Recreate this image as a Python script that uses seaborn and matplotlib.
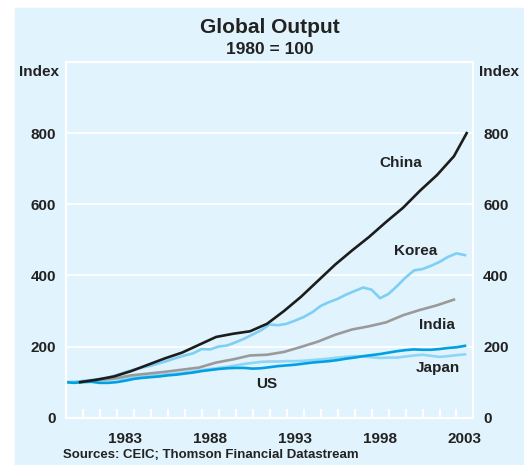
import numpy as np
import pandas as pd
import matplotlib
matplotlib.use("Agg")
import matplotlib.pyplot as plt
import seaborn as sns
from matplotlib.patches import Rectangle

# half-yearly grid for the quarterly series
half_years = np.arange(1980.0, 2004.0, 0.5)

korea = [100, 99, 103, 106, 109, 113, 120, 128, 135, 141, 146, 153,
         160, 168, 175, 181, 193, 192, 200, 203, 212, 222, 234, 246,
         262, 260, 264, 273, 283, 296, 314, 325, 334, 346, 356, 366,
         360, 336, 348, 370, 394, 414, 418, 427, 438, 452, 462, 457]

japan = [100, 101, 103, 104, 106, 107, 109, 110, 113, 115, 118, 120,
         122, 124, 127, 130, 134, 137, 140, 143, 147, 151, 154, 157,
         158, 158, 159, 159, 160, 162, 164, 166, 169, 171, 173, 172,
         170, 168, 169, 169, 172, 175, 177, 174, 171, 173, 176, 178]

us = [100, 98, 100, 101, 98, 98, 100, 104, 109, 112, 114, 116,
      119, 121, 124, 127, 131, 134, 137, 139, 140, 140, 138, 139,
      142, 145, 147, 149, 152, 155, 157, 159, 162, 166, 169, 173,
      176, 179, 183, 187, 190, 192, 191, 191, 193, 196, 198, 202]

# annual series, plotted near year end
china_x = [1980.85, 1981.85, 1982.85, 1983.85, 1984.85, 1985.85, 1986.85,
           1987.85, 1988.85, 1989.85, 1990.85, 1991.85, 1992.85, 1993.85,
           1994.85, 1995.85, 1996.85, 1997.85, 1998.85, 1999.85, 2000.85,
           2001.85, 2002.85, 2003.6]
china = [100, 107, 116, 131, 149, 167, 183, 205, 227, 236, 243, 264,
         300, 340, 385, 430, 470, 508, 550, 590, 638, 682, 735, 800]

india_x = china_x[:23]
india = [100, 106, 110, 119, 124, 129, 135, 141, 155, 164, 175, 177,
         185, 199, 214, 233, 248, 257, 268, 288, 303, 316, 332]

year_labels = ["1983", "1988", "1993", "1998", "2003"]

bg = "#e1f3fc"
txt = "#222222"

plt.rcParams["font.family"] = ["Liberation Sans", "DejaVu Sans"]
plt.rcParams["font.weight"] = "bold"

fig = plt.figure(figsize=(5.24, 4.65), dpi=100)
fig.patches.append(Rectangle((15 / 524, 0), 1, (465 - 8) / 465,
                             transform=fig.transFigure, color=bg, zorder=-5))
ax = fig.add_axes([0.1254, 0.1017, 0.9036 - 0.1254, 0.8667 - 0.1017])
ax.set_facecolor(bg)

lw = 1.9
sns.lineplot(x=half_years, y=japan, ax=ax, color="#8fd5f5", lw=lw)
sns.lineplot(x=half_years, y=korea, ax=ax, color="#7fcff4", lw=lw)
sns.lineplot(x=india_x, y=india, ax=ax, color="#9a9a9a", lw=lw)
sns.lineplot(x=half_years, y=us, ax=ax, color="#00a0e3", lw=lw)
sns.lineplot(x=china_x, y=china, ax=ax, color="#1c1c1c", lw=lw)

ax.set_xlim(1980, 2004)
ax.set_ylim(0, 1000)
ax.set_yticks([0, 200, 400, 600, 800])
ax.yaxis.grid(True, color="white", lw=1.3)
ax.tick_params(axis="y", length=0, labelsize=11, labelcolor=txt, pad=7,
               labelright=True, right=False)

# year boundary marks (white, inward) and mid-year labels
ax.set_xticks(np.arange(1981, 2004), [""] * 23)
ax.tick_params(axis="x", which="major", direction="in", length=6.5,
               width=1.6, color="white", bottom=True, top=False)
ax.set_xticks([int(y) + 0.5 for y in year_labels], year_labels, minor=True)
ax.tick_params(axis="x", which="minor", length=0, labelsize=11,
               labelcolor=txt, pad=10)
for s in ax.spines.values():
    s.set_color("white")
    s.set_linewidth(1.6)
ax.set_xlabel("")
ax.set_ylabel("")

for lab, x, y in [("China", 1999.69, 717), ("Korea", 2000.6, 468),
                  ("India", 2001.85, 261), ("Japan", 2001.93, 139),
                  ("US", 1991.84, 94)]:
    ax.text(x, y, lab, ha="center", va="center", fontsize=11,
            fontweight="bold", color=txt)

fig.text(0.5145, 1 - 27.5 / 465, "Global Output", ha="center",
         va="center", fontsize=15, fontweight="bold", color=txt)
fig.text(0.5145, 1 - 50 / 465, "1980 = 100", ha="center", va="center",
         fontsize=12.5, fontweight="bold", color=txt)
fig.text(58.5 / 524, 1 - 71.7 / 465, "Index", ha="right", va="center",
         fontsize=11, fontweight="bold", color=txt)
fig.text(479 / 524, 1 - 71.7 / 465, "Index", ha="left", va="center",
         fontsize=11, fontweight="bold", color=txt)
fig.text(63 / 524, 1 - 455 / 465, "Sources: CEIC; Thomson Financial Datastream",
         ha="left", va="center", fontsize=9.5, fontweight="bold", color=txt)

fig.savefig("out.png", dpi=100)
